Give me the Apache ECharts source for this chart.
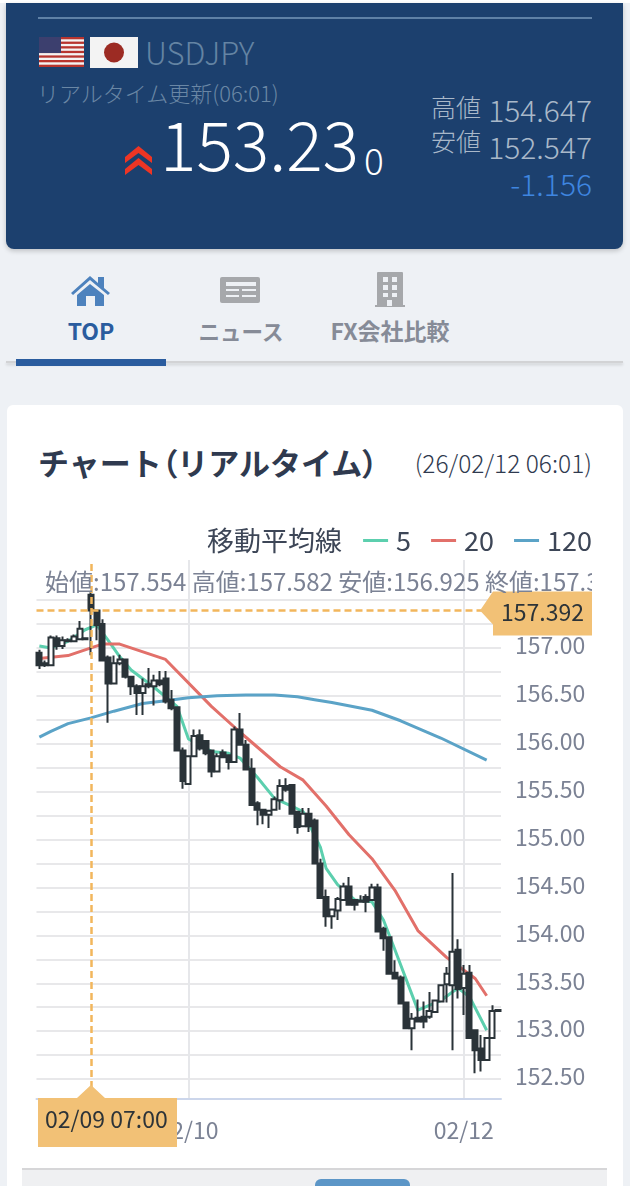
<!DOCTYPE html>
<html>
<head>
<meta charset="utf-8">
<style>
  html, body { margin: 0; padding: 0; background: #fff; }
  body { width: 630px; height: 1200px; position: relative; overflow: hidden; font-family: "Noto Sans CJK JP", "Noto Sans", sans-serif; }
  .abs { position: absolute; white-space: nowrap; line-height: 1; }
  #page { position: absolute; left: 0; top: 0; width: 630px; height: 1186px; background: #eef1f5; overflow: hidden; }
  #head { position: absolute; left: 6px; top: 3px; width: 617px; height: 246px; background: #1c406e; border-radius: 0 0 8px 8px; box-shadow: 0 2px 5px rgba(0,0,0,.2); }
  #card { position: absolute; left: 7px; top: 405px; width: 616px; height: 800px; background: #fff; border-radius: 6px; }
  #chart { position: absolute; left: 0; top: 0; width: 630px; height: 1200px; }
  #info { left: 45px; top: 569px; width: 547px; overflow: hidden; font-size: 24px; color: #7b8294; }
</style>
</head>
<body>
<div id="page">
  <div style="position:absolute;left:0;top:0;width:630px;height:3px;background:#fff"></div>
  <div id="head"></div>
  <div class="abs" style="left:38px;top:17px;width:554px;height:2px;background:#5f81a6"></div>

  <svg class="abs" style="left:39px;top:37px" width="45" height="30" viewBox="0 0 45 30">
    <rect width="45" height="30" fill="#f4f4f4"/>
    <g fill="#b8352f">
      <rect y="0" width="45" height="2.3"/><rect y="4.6" width="45" height="2.3"/><rect y="9.2" width="45" height="2.3"/>
      <rect y="13.8" width="45" height="2.3"/><rect y="18.4" width="45" height="2.3"/><rect y="23" width="45" height="2.3"/>
      <rect y="27.7" width="45" height="2.3"/>
    </g>
    <rect width="22" height="16" fill="#3c3f6e"/>
  </svg>
  <svg class="abs" style="left:90px;top:37px" width="48" height="31" viewBox="0 0 48 31">
    <rect width="48" height="31" fill="#f3f3f3"/>
    <circle cx="24" cy="15.5" r="10" fill="#9c2b23"/>
  </svg>
  <div class="abs" style="left:145px;top:36px;font-size:31px;font-weight:300;color:#6484a3">USDJPY</div>
  <div class="abs" style="left:37px;top:81px;font-size:22px;font-weight:300;color:#6a87a5">リアルタイム更新(06:01)</div>

  <svg class="abs" style="left:125px;top:146px" width="27" height="29" viewBox="0 0 27 29">
    <path d="M0 11 L13.5 0 L27 11 L27 17 L13.5 7 L0 17 Z M0 23 L13.5 12 L27 23 L27 29 L13.5 19 L0 29 Z" fill="#ee3524"/>
  </svg>
  <div class="abs" style="left:160px;top:108px;font-size:68px;font-weight:300;color:#fff">153.23</div>
  <div class="abs" style="left:364px;top:141px;font-size:37px;font-weight:300;color:#fff">0</div>

  <div class="abs" style="left:431px;top:94px;font-size:25px;font-weight:300;color:#a9b8c9">高値</div>
  <div class="abs" style="left:431px;top:128px;font-size:25px;font-weight:300;color:#a9b8c9">安値</div>
  <div class="abs" style="right:38px;top:94px;font-size:30px;font-weight:300;color:#a9b8c9">154.647</div>
  <div class="abs" style="right:38px;top:131px;font-size:30px;font-weight:300;color:#a9b8c9">152.547</div>
  <div class="abs" style="right:38px;top:168px;font-size:30px;font-weight:300;color:#3f86e0">-1.156</div>

  <svg class="abs" style="left:70px;top:274px" width="41" height="32" viewBox="0 0 41 32">
    <path d="M1 19 L20 2 L28 9 L28 3 L34 3 L34 14 L40 19 L38 21 L20 6 L3 21 Z M7 21 L20 10 L34 21 L34 32 L25 32 L25 22 L16 22 L16 32 L7 32 Z" fill="#4d82bd"/>
  </svg>
  <svg class="abs" style="left:220px;top:277px" width="40" height="26" viewBox="0 0 40 26">
    <rect width="40" height="26" rx="2" fill="#a6a8ab"/>
    <g fill="#eef1f5"><rect x="6" y="5" width="30" height="4"/><rect x="6" y="12" width="13" height="2"/><rect x="22" y="12" width="14" height="2"/><rect x="6" y="18" width="13" height="2"/><rect x="22" y="18" width="14" height="2"/></g>
  </svg>
  <svg class="abs" style="left:375px;top:272px" width="30" height="35" viewBox="0 0 30 35">
    <rect x="2" y="0" width="26" height="34" rx="1" fill="#a6a8ab"/><rect y="33" width="30" height="2" fill="#a6a8ab"/>
    <g fill="#eef1f5"><rect x="8" y="5" width="5" height="5"/><rect x="17" y="5" width="5" height="5"/><rect x="8" y="13" width="5" height="5"/><rect x="17" y="13" width="5" height="5"/><rect x="8" y="21" width="5" height="4"/><rect x="17" y="21" width="5" height="4"/><rect x="12" y="28" width="5" height="6"/></g>
  </svg>
  <div class="abs" style="left:16px;width:150px;top:319px;text-align:center;font-size:23px;font-weight:700;color:#2a5c9e">TOP</div>
  <div class="abs" style="left:166px;width:150px;top:320px;text-align:center;font-size:21.5px;font-weight:700;color:#868b97">ニュース</div>
  <div class="abs" style="left:315px;width:150px;top:319px;text-align:center;font-size:23px;font-weight:700;color:#868b97">FX会社比較</div>
  <div class="abs" style="left:6px;top:361px;width:617px;height:2px;background:#d2d3d5;box-shadow:0 2px 3px rgba(0,0,0,.15)"></div>
  <div class="abs" style="left:16px;top:359px;width:150px;height:7px;background:#2a5c9e"></div>

  <div id="card"></div>
  <div class="abs" style="left:38px;top:446px;font-size:31px;font-weight:700;color:#2f3a4f">チャート<span style="font-feature-settings:'palt'">（</span>リアルタイム<span style="font-feature-settings:'palt'">）</span></div>
  <div class="abs" style="right:38px;top:451px;font-size:24.5px;font-weight:300;color:#2f3a4f">(26/02/12 06:01)</div>

  <div class="abs" style="left:22px;top:1168px;width:585px;height:18px;background:#eff0f2;border-top:2px solid #d6d6d8;box-sizing:border-box"></div>
  <div class="abs" style="left:315px;top:1179px;width:95px;height:7px;background:#5c96c7;border-radius:6px 6px 0 0"></div>
</div>
<div id="chart"></div>
<div id="info" class="abs"></div>

<script src="https://cdn.jsdelivr.net/npm/echarts@6/dist/echarts.min.js"></script>
<script>
// 1時間足 02/06 22:00 - 02/12 06:00
const opens = [
  156.95, 156.84, 156.82, 157.10, 157.02, 157.08, 157.07, 157.09, 157.10, 157.554,
  157.39, 157.25, 156.90, 156.63, 156.84, 156.88, 156.70, 156.60, 156.53, 156.60,
  156.60, 156.66, 156.68, 156.46, 156.38, 155.93, 155.58, 155.87, 156.09, 156.03,
  155.93, 155.71, 155.91, 155.88, 155.81, 156.15, 155.99, 155.74, 155.38, 155.31,
  155.26, 155.31, 155.41, 155.56, 155.57, 155.29, 155.14, 155.27, 155.20, 154.75,
  154.40, 154.20, 154.26, 154.37, 154.51, 154.37, 154.36, 154.40, 154.37, 154.50,
  154.07, 153.98, 153.61, 153.56, 153.30, 153.03, 153.14, 153.15, 153.15, 153.20,
  153.31, 153.49, 153.48, 153.85, 153.45, 153.61, 153.01, 152.82, 152.70, 152.93,
  153.21
];
const closes = [
  156.82, 156.82, 157.11, 157.02, 157.08, 157.07, 157.12, 157.20, 157.09, 157.392,
  157.24, 156.87, 156.63, 156.84, 156.88, 156.70, 156.60, 156.53, 156.60, 156.62,
  156.66, 156.62, 156.44, 156.37, 155.93, 155.61, 155.87, 156.08, 155.95, 155.90,
  155.71, 155.87, 155.86, 155.81, 156.15, 155.99, 155.73, 155.36, 155.31, 155.26,
  155.30, 155.42, 155.56, 155.52, 155.27, 155.13, 155.27, 155.14, 154.75, 154.39,
  154.20, 154.27, 154.38, 154.51, 154.32, 154.32, 154.35, 154.35, 154.50, 154.04,
  153.97, 153.60, 153.55, 153.29, 153.03, 153.13, 153.10, 153.10, 153.21, 153.32,
  153.48, 153.60, 153.83, 153.44, 153.60, 152.93, 152.80, 152.70, 152.93, 153.21,
  153.22
];
const lows = [
  156.78, 156.80, 156.81, 156.98, 156.99, 157.06, 157.06, 157.09, 157.08, 156.925,
  157.08, 156.87, 156.22, 156.62, 156.82, 156.68, 156.51, 156.30, 156.30, 156.58,
  156.40, 156.60, 156.42, 156.35, 155.92, 155.53, 155.57, 155.86, 155.93, 155.88,
  155.65, 155.70, 155.85, 155.73, 155.80, 155.98, 155.72, 155.35, 155.15, 155.16,
  155.12, 155.30, 155.31, 155.50, 155.26, 155.06, 155.13, 155.08, 154.74, 154.38,
  154.09, 154.07, 154.16, 154.36, 154.31, 154.26, 154.34, 154.24, 154.36, 154.03,
  153.84, 153.59, 153.54, 153.28, 153.02, 152.80, 153.09, 153.03, 153.13, 153.19,
  153.30, 153.30, 152.80, 153.34, 153.17, 152.92, 152.56, 152.58, 152.69, 152.92,
  153.20
];
const highs = [
  156.98, 156.87, 157.13, 157.13, 157.12, 157.10, 157.14, 157.28, 157.11, 157.582,
  157.40, 157.30, 156.92, 156.92, 156.93, 156.89, 156.71, 156.62, 156.68, 156.79,
  156.72, 156.76, 156.76, 156.56, 156.39, 155.96, 155.88, 156.15, 156.15, 156.04,
  155.94, 155.90, 155.94, 155.89, 156.18, 156.32, 156.04, 155.85, 155.40, 155.32,
  155.31, 155.45, 155.63, 155.64, 155.57, 155.30, 155.33, 155.33, 155.22, 154.80,
  154.48, 154.28, 154.40, 154.55, 154.61, 154.38, 154.42, 154.43, 154.54, 154.54,
  154.09, 153.98, 153.74, 153.58, 153.31, 153.19, 153.33, 153.31, 153.41, 153.33,
  153.49, 153.67, 154.65, 153.96, 153.69, 153.69, 153.02, 152.96, 152.94, 153.27,
  153.23
];

// 移動平均線 [ローソク足の番号, 値]
const ma5 = [
  [0, 157.02], [2, 157.00], [5, 157.07], [8, 157.19], [10, 157.24], [12, 157.08], [14, 156.91], [16, 156.77],
  [20, 156.59], [24, 156.39], [26, 156.05], [30, 155.92], [33, 155.90], [35, 155.85], [38, 155.65], [41, 155.43],
  [44, 155.35], [46, 155.29], [49, 154.92], [50, 154.70], [52, 154.53], [55, 154.37], [58, 154.35], [60, 154.16],
  [62, 153.85], [66, 153.22], [70, 153.32], [73, 153.45], [75, 153.36], [78, 153.01]
];
const ma20 = [
  [0, 156.89], [5, 156.92], [9, 157.00], [11, 157.04], [14, 157.04], [22, 156.88], [30, 156.39], [35, 156.12],
  [42, 155.76], [46, 155.62], [50, 155.35], [54, 155.05], [58, 154.80], [62, 154.47], [66, 154.05], [71, 153.77],
  [76, 153.55], [78, 153.37]
];
const ma120 = [
  [0, 156.07], [2, 156.13], [5, 156.21], [9, 156.27], [13, 156.34], [18, 156.42], [22, 156.45], [26, 156.48],
  [31, 156.50], [36, 156.51], [41, 156.51], [45, 156.49], [48, 156.46], [51, 156.43], [58, 156.35], [63, 156.24], [70, 156.06],
  [78, 155.83]
];

const yTicks = [152.5, 152.75, 153, 153.25, 153.5, 153.75, 154, 154.25, 154.5, 154.75, 155, 155.25, 155.5, 155.75, 156, 156.25, 156.5, 156.75, 157, 157.25, 157.5];
const yLabels = [152.5, 153, 153.5, 154, 154.5, 155, 155.5, 156, 156.5, 157];
const dateTicks = ["02/10 00:00", "02/12 00:00"];
const cursorTime = "02/09 07:00";
const cursorPrice = 157.392;
const hours = [
  ["02/06", [22, 23]], ["02/07", [0, 1, 2, 3, 4, 5, 6]],
  ["02/09", [7, 8, 9, 10, 11, 12, 13, 14, 15, 16, 17, 18, 19, 20, 21, 22, 23]],
  ["02/10", [0, 1, 2, 3, 4, 5, 6, 7, 8, 9, 10, 11, 12, 13, 14, 15, 16, 17, 18, 19, 20, 21, 22, 23]],
  ["02/11", [0, 1, 2, 3, 4, 5, 6, 7, 8, 9, 10, 11, 12, 13, 14, 15, 16, 17, 18, 19, 20, 21, 22, 23]],
  ["02/12", [0, 1, 2, 3, 4, 5, 6]]
];
const categories = hours.flatMap(([d, hs]) => hs.map((h) => d + " " + String(h).padStart(2, "0") + ":00"));

const font = '"Noto Sans CJK JP", "Noto Sans", sans-serif';
const gray = "#7b8294";
const orange = "#f2c176";
const isDateTick = (i) => dateTicks.includes(categories[i]);

const myChart = echarts.init(document.getElementById("chart"));

myChart.setOption({
  animation: false,
  textStyle: { fontFamily: font },
  grid: { left: 36.5, top: 560, width: 464.5, height: 539 },
  legend: {
    data: ["5", "20", "120"],
    right: 38,
    top: 527,
    padding: 0,
    itemWidth: 25,
    itemHeight: 3,
    itemGap: 20,
    icon: "rect",
    textStyle: { fontSize: 27, color: "#3d4657", padding: [0, 0, 0, 3] },
  },
  xAxis: {
    type: "category",
    data: categories,
    axisLine: { lineStyle: { color: "#ccd6eb", width: 2 } },
    axisTick: { alignWithLabel: true, length: 23, interval: (i) => isDateTick(i), lineStyle: { color: "#ccd6eb", width: 2 } },
    axisLabel: { interval: (i) => isDateTick(i), formatter: (v) => v.slice(0, 5), fontSize: 23, color: gray, margin: 20 },
    splitLine: { show: true, alignWithLabel: true, interval: (i) => isDateTick(i), lineStyle: { color: "#e6e7ea", width: 2 } },
  },
  yAxis: {
    type: "value",
    position: "right",
    scale: true,
    min: 152.292,
    max: 157.918,
    axisLine: { show: false },
    axisTick: { show: false, customValues: yTicks },
    axisLabel: {
      customValues: yLabels,
      formatter: (v) => "{v|" + v.toFixed(2) + "}",
      margin: 14,
      rich: { v: { fontSize: 23, color: gray, fontFamily: font, padding: [0, 0, 5, 0] } },
    },
    splitLine: { show: true, lineStyle: { color: "#e8e8ea", width: 2 } },
  },
  series: [
    { name: "5", type: "line", data: ma5, symbol: "none", z: 2, color: "#5ccfae", lineStyle: { width: 3 } },
    { name: "20", type: "line", data: ma20, symbol: "none", z: 2, color: "#e2706a", lineStyle: { width: 3 } },
    { name: "120", type: "line", data: ma120, symbol: "none", z: 2, color: "#5ba3c7", lineStyle: { width: 3 } },
    {
      name: "USDJPY",
      type: "candlestick",
      z: 3,
      barWidth: 5.5,
      data: categories.map((c, i) => [opens[i], closes[i], lows[i], highs[i]]),
      itemStyle: { color: "#fff", color0: "#2a3338", borderColor: "#2a3338", borderColor0: "#2a3338", borderWidth: 2 },
      markLine: {
        silent: true,
        symbol: "none",
        animation: false,
        label: { show: false },
        lineStyle: { color: "#f2b65c", type: [7, 4], width: 2.5 },
        data: [{ yAxis: cursorPrice }, { xAxis: cursorTime }],
      },
    },
  ],
});

// カーソル位置のラベルは軸のスケールから位置を求める
const [cursorX, cursorY] = myChart.convertToPixel({ gridIndex: 0 }, [cursorTime, cursorPrice]);
const cursorIdx = categories.indexOf(cursorTime);
const cursorOhlc = [opens[cursorIdx], highs[cursorIdx], lows[cursorIdx], closes[cursorIdx]].map((v) => v.toFixed(3));
document.getElementById("info").textContent =
  `始値:${cursorOhlc[0]} 高値:${cursorOhlc[1]} 安値:${cursorOhlc[2]} 終値:${cursorOhlc[3]}`;

myChart.setOption({
  graphic: [
    { type: "text", left: 207, top: 527, z: 10, style: { text: "移動平均線", fontFamily: font, fontSize: 27, fill: "#3d4657" } },
    {
      type: "polygon", z: 20,
      shape: { points: [[480, cursorY], [493, cursorY - 19], [592, cursorY - 19], [592, cursorY + 25], [493, cursorY + 25], [493, cursorY + 14]] },
      style: { fill: orange },
    },
    { type: "text", x: 501, y: cursorY - 10, z: 21, style: { text: cursorPrice.toFixed(3), fontFamily: font, fontSize: 23, fill: "#2c3338" } },
    {
      type: "polygon", z: 20,
      shape: { points: [[cursorX, 1085], [cursorX + 14, 1098], [177, 1098], [177, 1147], [38, 1147], [38, 1098], [cursorX - 14, 1098]] },
      style: { fill: orange },
    },
    { type: "text", x: 45, y: 1108, z: 21, style: { text: cursorTime, fontFamily: font, fontSize: 23, fill: "#2c3338" } },
  ],
});
</script>
</body>
</html>
